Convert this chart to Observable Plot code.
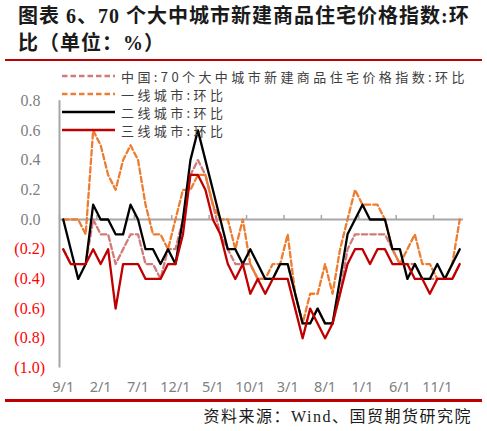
<!DOCTYPE html>
<html>
<head>
<meta charset="utf-8">
<script src="https://cdn.jsdelivr.net/npm/d3@7"></script>
<script src="https://cdn.jsdelivr.net/npm/@observablehq/plot@0.6"></script>
<style>
  body { margin: 0; background: #fff; }
  #wrap { position: relative; width: 487px; height: 431px; overflow: hidden; background: #fff; }
  #title { position: absolute; left: 18px; top: 3px; font-family: "Liberation Serif", "Noto Sans CJK SC", serif;
           font-size: 20px; font-weight: 700; line-height: 27px; letter-spacing: 1px; color: #1a1a1a; white-space: nowrap; }
  .redline { position: absolute; left: 5px; width: 477px; height: 2px; background: #c00000; }
  #chart { position: absolute; left: 0; top: 62px; }
  #legend { position: absolute; left: 62px; top: 67px; }
  .row { display: flex; align-items: center; height: 18px; }
  .row span { margin-left: 6px; font-family: "Noto Sans CJK SC", sans-serif; font-size: 13px;
              letter-spacing: 3.4px; color: #404040; white-space: nowrap; }
  #source { position: absolute; right: 15px; top: 407px; font-family: "Liberation Serif", "Noto Sans CJK SC", serif;
            font-size: 16px; line-height: 20px; letter-spacing: 1.5px; color: #1a1a1a; white-space: nowrap; }
</style>
</head>
<body>
<div id="wrap">
  <div id="title">图表 6、70 个大中城市新建商品住宅价格指数:环<br>比（单位：%）</div>
  <div class="redline" style="top:59px"></div>
  <div id="chart"></div>
  <div id="legend"></div>
  <div class="redline" style="top:399px;height:2.5px"></div>
  <div id="source">资料来源：Wind、国贸期货研究院</div>
</div>
<script>
// months Sep 2021 .. Feb 2026 (category axis)
const months = d3.utcMonth.range(new Date(Date.UTC(2021, 8, 1)), new Date(Date.UTC(2026, 2, 1))).map(d3.utcFormat("%Y-%m"))
const tickLabels = ["9/1", "2/1", "7/1", "12/1", "5/1", "10/1", "3/1", "8/1", "1/1", "6/1", "11/1"]
const tickMonths = months.filter((d, i) => i % 5 === 0)

const seriesNames = ["中国:70个大中城市新建商品住宅价格指数:环比", "一线城市:环比", "二线城市:环比", "三线城市:环比"]

const national = [-0.2, -0.3, -0.3, -0.3, 0.0, -0.1, -0.1, -0.3, -0.2, -0.1,
  -0.1, -0.3, -0.3, -0.4, -0.2, -0.2, 0.0, 0.3, 0.4, 0.3,
  0.1, -0.1, -0.2, -0.3, -0.3, -0.3, -0.4, -0.4, -0.4, -0.3,
  -0.3, -0.5, -0.7, -0.7, -0.6, -0.7, -0.7, -0.5, -0.2, -0.1,
  -0.1, -0.1, -0.1, -0.1, -0.2, -0.3, -0.3, -0.3, -0.4, -0.4,
  -0.4, -0.4, -0.4, -0.3]
const tier1 = [0.0, 0.0, 0.0, -0.1, 0.6, 0.5, 0.3, 0.2, 0.4, 0.5,
  0.4, 0.1, -0.1, -0.1, -0.2, 0.0, 0.2, 0.2, 0.3, 0.3,
  0.1, 0.0, 0.0, -0.2, 0.0, -0.3, -0.4, -0.4, -0.3, -0.3,
  -0.1, -0.5, -0.7, -0.5, -0.5, -0.3, -0.5, -0.2, 0.0, 0.2,
  0.1, 0.1, 0.1, 0.0, -0.2, -0.3, -0.2, -0.1, -0.3, -0.3,
  -0.4, -0.4, -0.3, 0.0]
const tier2 = [0.0, -0.2, -0.4, -0.3, 0.1, 0.0, 0.0, -0.1, -0.1, 0.1,
  0.0, -0.2, -0.2, -0.3, -0.2, -0.3, 0.0, 0.4, 0.6, 0.4,
  0.2, 0.0, -0.2, -0.2, -0.3, -0.2, -0.3, -0.4, -0.4, -0.3,
  -0.3, -0.5, -0.7, -0.7, -0.6, -0.7, -0.7, -0.4, -0.1, 0.0,
  0.1, 0.0, 0.0, 0.0, -0.2, -0.2, -0.4, -0.3, -0.4, -0.4,
  -0.3, -0.4, -0.3, -0.2]
const tier3 = [-0.2, -0.3, -0.3, -0.3, -0.2, -0.3, -0.2, -0.6, -0.3, -0.3,
  -0.3, -0.4, -0.4, -0.4, -0.3, -0.3, -0.1, 0.3, 0.3, 0.2,
  0.0, -0.1, -0.3, -0.4, -0.3, -0.5, -0.4, -0.5, -0.4, -0.4,
  -0.4, -0.6, -0.8, -0.6, -0.7, -0.8, -0.7, -0.5, -0.3, -0.2,
  -0.2, -0.3, -0.2, -0.2, -0.3, -0.3, -0.3, -0.4, -0.4, -0.5,
  -0.4, -0.4, -0.4, -0.3]

const posTicks = [0.0, 0.2, 0.4, 0.6, 0.8]
const negTicks = [-0.2, -0.4, -0.6, -0.8, -1.0]

const colors = ["#d17a7a", "#ed7d31", "#000000", "#c00000"]
const dashes = ["5.5,3", "5.5,3", null, null]
const axisGray = "#a6a6a6"

const W = 487, H = 336, mL = 59, mR = 24
const step = (W - mL - mR) / months.length
const f1 = d3.format(".1f")

let chart = Plot.plot({
  width: W,
  height: H,
  marginLeft: mL,
  marginRight: mR,
  marginTop: 38.2,
  marginBottom: 30.5,
  x: { type: "point", domain: months, padding: 0.5, round: false },
  y: { domain: [-1.0, 0.8], label: null },
  marks: [
    Plot.ruleY([0], { stroke: axisGray, strokeWidth: 2 }),
    Plot.ruleX([months[0]], { y1: -1.0, y2: 0.8, dx: -step / 2, stroke: axisGray, strokeWidth: 2 }),
    Plot.ruleY(posTicks.concat(negTicks), { x1: months[0], x2: months[1], dx: -step / 2, insetRight: 2.5, stroke: axisGray, strokeWidth: 1.5 }),
    Plot.ruleX(tickMonths, { y1: 0, y2: 0.027, dx: -step / 2, stroke: axisGray, strokeWidth: 1.5 }),
    Plot.axisX({
      ticks: tickMonths,
      tickFormat: d => tickLabels[tickMonths.indexOf(d)],
      tickSize: 0,
      tickPadding: 14,
      color: "#7f7f7f",
      fontSize: 14.5,
      fontFamily: "Noto Sans",
      label: null,
    }),
    Plot.axisY({
      ticks: posTicks,
      tickFormat: f1,
      tickSize: 0,
      tickPadding: 19,
      color: "#7f7f7f",
      fontSize: 16,
      fontFamily: "Liberation Serif",
      label: null,
    }),
    Plot.axisY({
      ticks: negTicks,
      tickFormat: d => `(${f1(-d)})`,
      tickSize: 0,
      tickPadding: 14.5,
      color: "#ff0000",
      fontSize: 16,
      fontFamily: "Liberation Serif",
      label: null,
    }),
    Plot.lineY(national, { x: months, stroke: colors[0], strokeWidth: 2.3, strokeDasharray: dashes[0] }),
    Plot.lineY(tier1, { x: months, stroke: colors[1], strokeWidth: 2.3, strokeDasharray: dashes[1] }),
    Plot.lineY(tier2, { x: months, stroke: colors[2], strokeWidth: 2.3 }),
    Plot.lineY(tier3, { x: months, stroke: colors[3], strokeWidth: 2.3 }),
  ],
  style: {
    background: "#ffffff",
    overflow: "visible",
  }
})
d3.select("#chart").append(() => chart)

// legend drawn over the plot area
const legend = d3.select("#legend")
seriesNames.forEach((name, i) => {
  const row = legend.append("div").attr("class", "row")
  const sw = row.append("svg").attr("width", 53).attr("height", 18)
  sw.append("line")
    .attr("x1", 0).attr("x2", 53).attr("y1", 9).attr("y2", 9)
    .attr("stroke", colors[i]).attr("stroke-width", 2.3)
    .attr("stroke-dasharray", dashes[i])
  row.append("span").text(name)
})
</script>
</body>
</html>
